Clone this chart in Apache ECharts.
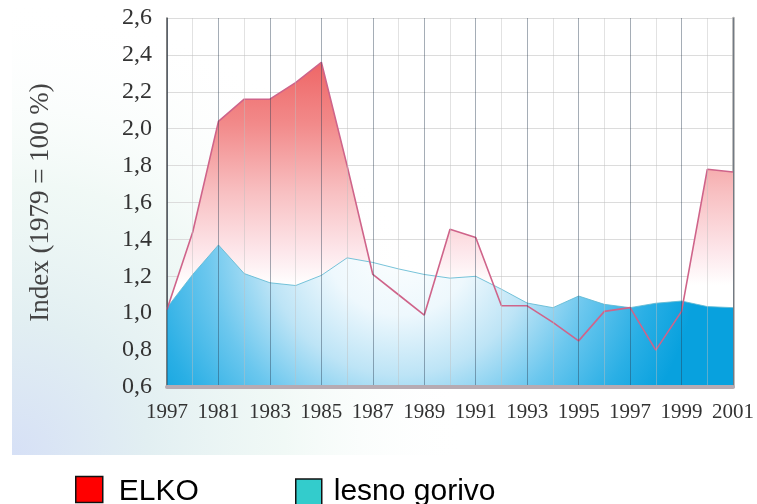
<!DOCTYPE html>
<html>
<head>
<meta charset="utf-8">
<script src="https://cdn.jsdelivr.net/npm/echarts@6/dist/echarts.min.js"></script>
<style>
html,body{margin:0;padding:0;background:#ffffff;}
#chart{width:757px;height:504px;}
</style>
</head>
<body>
<div id="chart"></div>
<script>
// ---- data ----
var years = ['1979','1980','1981','1982','1983','1984','1985','1986','1987','1988','1989','1990',
             '1991','1992','1993','1994','1995','1996','1997','1998','1999','2000','2001'];
var xTickLabels = ['1997','1981','1983','1985','1987','1989','1991','1993','1995','1997','1999','2001'];
var elko = [1.02, 1.44, 2.04, 2.16, 2.16, 2.25, 2.36, 1.80, 1.21, 1.10, 0.99, 1.455,
            1.41, 1.04, 1.04, 0.95, 0.85, 1.01, 1.03, 0.80, 1.01, 1.78, 1.765];
var lesnoGorivo = [1.03, 1.21, 1.37, 1.215, 1.165, 1.15, 1.205, 1.30, 1.275, 1.24, 1.21, 1.19,
                   1.20, 1.13, 1.055, 1.03, 1.093, 1.048, 1.03, 1.054, 1.066, 1.036, 1.03];
var seriesNames = ['ELKO', 'lesno gorivo'];
var yAxisName = 'Index (1979 = 100 %)';

var chart = echarts.init(document.getElementById('chart'), null, {renderer: 'canvas'});

var serif = "'Liberation Serif', 'DejaVu Serif', serif";
var sans = "'Liberation Sans', Arial, sans-serif";

var option = {
  animation: false,
  backgroundColor: '#ffffff',
  graphic: [{
    type: 'rect',
    z: -10,
    silent: true,
    shape: {x: 12, y: 0, width: 745, height: 455},
    style: {
      fill: {
        type: 'radial', x: 0, y: 1, r: 1.0, global: false,
        colorStops: [
          {offset: 0, color: '#d6e0f6'},
          {offset: 0.3, color: '#e2eff2'},
          {offset: 0.6, color: 'rgba(236,247,243,0.75)'},
          {offset: 1, color: 'rgba(255,255,255,0)'}
        ]
      }
    }
  }],
  grid: {left: 167, right: 22, top: 18, bottom: 117, containLabel: false},
  legend: [{
    data: [{name: 'ELKO', itemStyle: {color: '#ff0000', borderColor: '#111', borderWidth: 1.5}}],
    left: 75, top: 472, padding: 0,
    icon: 'rect', itemWidth: 27, itemHeight: 26,
    formatter: '{t|{name}}',
    textStyle: {
      fontSize: 30, fontFamily: sans, color: '#000', padding: [0, 0, 0, 11],
      rich: {t: {fontSize: 30, fontFamily: sans, color: '#000', lineHeight: 30, padding: [5, 0, 0, 0]}}
    }
  }, {
    data: [{name: 'lesno gorivo', itemStyle: {color: '#33cccc', borderColor: '#111', borderWidth: 1.5}}],
    left: 295, top: 477, padding: 0,
    icon: 'rect', itemWidth: 26, itemHeight: 26,
    textStyle: {fontSize: 30, fontFamily: sans, color: '#000', padding: [0, 0, 0, 7]}
  }],
  xAxis: {
    type: 'category',
    data: years,
    boundaryGap: false,
    z: 5,
    axisLine: {show: true, lineStyle: {color: '#b6abb3', width: 4}},
    axisTick: {show: false},
    axisLabel: {
      interval: 0,
      margin: 15,
      fontFamily: serif, fontSize: 21, color: '#333',
      formatter: function (v, i) { return i % 2 === 0 ? xTickLabels[i / 2] : ''; }
    },
    splitLine: {
      show: true, interval: 0,
      lineStyle: {color: ['rgba(40,60,80,0.42)', 'rgba(190,190,190,0.45)'], width: 1}
    }
  },
  yAxis: [{
    type: 'value',
    min: 0.6, max: 2.6, interval: 0.2,
    name: yAxisName,
    nameLocation: 'middle',
    nameGap: 113,
    nameTextStyle: {fontFamily: serif, fontSize: 27, color: '#444'},
    axisLine: {show: true, lineStyle: {color: '#555', width: 1.5}},
    axisTick: {show: false},
    axisLabel: {
      margin: 15, fontFamily: serif, fontSize: 24, color: '#333',
      formatter: function (v) { return v.toFixed(1).replace('.', ','); }
    },
    splitLine: {show: true, lineStyle: {color: '#dcdcdc', width: 1}}
  }, {
    type: 'value',
    min: 0.6, max: 2.6, interval: 0.2,
    position: 'right',
    axisLine: {show: true, lineStyle: {color: '#a8a8a8', width: 2.5}},
    axisTick: {show: false},
    axisLabel: {show: false},
    splitLine: {show: false}
  }],
  series: [{
    name: seriesNames[0],
    type: 'line',
    data: elko,
    symbol: 'none',
    z: 2,
    lineStyle: {width: 0},
    areaStyle: {
      origin: 'start',
      opacity: 1,
      color: {
        type: 'linear', x: 0, y: 55, x2: 0, y2: 285, global: true,
        colorStops: [
          {offset: 0, color: '#ee6262'},
          {offset: 0.3, color: '#f28a8a'},
          {offset: 0.6, color: '#f8c0c2'},
          {offset: 0.85, color: '#fde6ea'},
          {offset: 1, color: '#ffffff'}
        ]
      }
    }
  }, {
    name: seriesNames[1],
    type: 'line',
    data: lesnoGorivo,
    symbol: 'none',
    z: 3,
    lineStyle: {width: 1, color: 'rgba(95,185,210,0.85)'},
    areaStyle: {
      origin: 'start',
      opacity: 1,
      color: {
        type: 'radial', x: 400, y: 240, r: 300, global: true,
        colorStops: [
          {offset: 0, color: '#ffffff'},
          {offset: 0.25, color: '#eef8fd'},
          {offset: 0.45, color: '#bde4f6'},
          {offset: 0.65, color: '#6bc7ee'},
          {offset: 0.85, color: '#2aafe5'},
          {offset: 1, color: '#08a1de'}
        ]
      }
    }
  }, {
    name: seriesNames[0],
    type: 'line',
    data: elko,
    symbol: 'none',
    z: 4,
    lineStyle: {width: 1.6, color: '#cf648a'}
  }]
};
chart.setOption(option);
</script>
</body>
</html>
